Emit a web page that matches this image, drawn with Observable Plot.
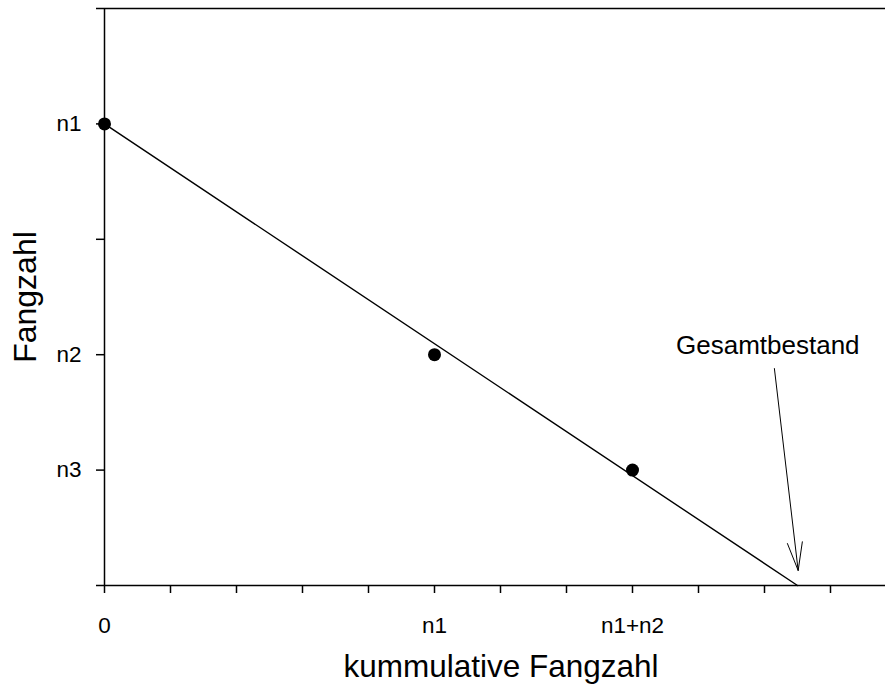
<!DOCTYPE html>
<html><head><meta charset="utf-8">
<script src="https://cdn.jsdelivr.net/npm/d3@7"></script>
<script src="https://cdn.jsdelivr.net/npm/@observablehq/plot@0.6"></script>
<style>body{margin:0;background:#fff}</style>
</head><body><div id="chart"></div>
<script>
// Tick values and labels
const xTickValues = [0,1,2,3,4,5,6,7,8,9,10,11];
const xTickLabels = ["0","","","","","n1","","","n1+n2","","",""];
const yTickValues = [0,1,2,3,4,5];
const yTickLabels = ["","n3","n2","","n1",""];
// Catch data (cumulative catch vs catch)
const catchX = [0,5,8];
const catchY = [4,2,1];
// Regression line endpoints
const fitX = [0,10.5];
const fitY = [4,0];
// Annotation
const annotationText = ["Gesamtbestand"];
const annotationX = [10.05];
const annotationY = [2.08];
const arrowFromX = [10.15];
const arrowFromY = [1.88];
const arrowToX = [10.51];
const arrowToY = [0.13];
const xTitle = "kummulative Fangzahl";
const yTitle = "Fangzahl";

const xLabelMap = new Map(xTickValues.map((v,i)=>[v,xTickLabels[i]]));
const yLabelMap = new Map(yTickValues.map((v,i)=>[v,yTickLabels[i]]));
const points = catchX.map((x,i)=>({x, y: catchY[i]}));
const fit = fitX.map((x,i)=>({x, y: fitY[i]}));
const notes = annotationText.map((t,i)=>({t, x: annotationX[i], y: annotationY[i]}));
const arrows = arrowFromX.map((x1,i)=>({x1, y1: arrowFromY[i], x2: arrowToX[i], y2: arrowToY[i]}));

const chart = Plot.plot({
  width: 885,
  height: 686,
  marginLeft: 104,
  marginRight: 0,
  marginTop: 8,
  marginBottom: 101,
  style: {fontFamily: "'Liberation Sans', Arial, sans-serif", color: "black", background: "white"},
  x: {domain: [0, 781/66]},
  y: {domain: [0, 5]},
  marks: [
    Plot.ruleY([0, 5], {strokeWidth: 1.5}),
    Plot.ruleX([0], {strokeWidth: 1.5}),
    Plot.line(fit, {x: "x", y: "y", strokeWidth: 1.4}),
    Plot.arrow(arrows, {x1: "x1", y1: "y1", x2: "x2", y2: "y2", strokeWidth: 1, headLength: 43.5, headAngle: 30}),
    Plot.dot(points, {x: "x", y: "y", r: 6.5, fill: "black"}),
    Plot.axisX(xTickValues, {tickSize: 8, tickPadding: 24, strokeWidth: 1.5, fontSize: 22.5, tickFormat: d => xLabelMap.get(d), label: null}),
    Plot.axisY(yTickValues, {tickSize: 8, tickPadding: 15, strokeWidth: 1.5, fontSize: 22.5, tickFormat: d => yLabelMap.get(d), label: null}),
    Plot.text(notes, {x: "x", y: "y", text: "t", fontSize: 26}),
    Plot.text([xTitle], {text: d => d, frameAnchor: "bottom", textAnchor: "middle", lineAnchor: "middle", dx: 6, dy: 81, fontSize: 31.5}),
    Plot.text([yTitle], {text: d => d, frameAnchor: "left", textAnchor: "middle", lineAnchor: "middle", rotate: -90, dx: -79, fontSize: 32})
  ]
});
document.getElementById("chart").appendChild(chart);
</script>
</body></html>
